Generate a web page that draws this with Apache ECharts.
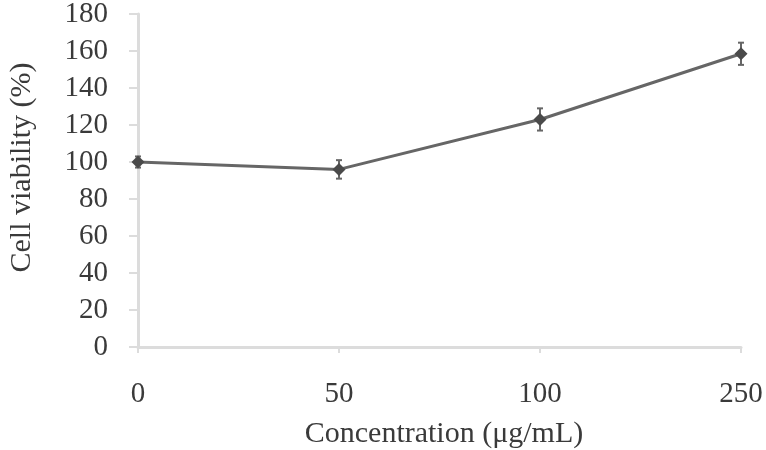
<!DOCTYPE html>
<html>
<head>
<meta charset="utf-8">
<script src="https://cdn.jsdelivr.net/npm/echarts@6/dist/echarts.min.js"></script>
<style>html,body{margin:0;padding:0;background:#fff;}#c{width:766px;height:450px;}</style>
</head>
<body>
<div id="c"></div>
<script>
const categories = ['0', '50', '100', '250'];
const viability = [100, 96, 123, 158.5];
const errors = [3, 5, 6, 6];
const yTicks = [0, 20, 40, 60, 80, 100, 120, 140, 160, 180];

const chart = echarts.init(document.getElementById('c'));
const font = '"Liberation Serif", "Times New Roman", serif';
const errData = categories.map((c, i) => [i, viability[i] - errors[i], viability[i] + errors[i]]);

chart.setOption({
  animation: false,
  backgroundColor: '#fff',
  grid: { left: 138, right: 25, top: 14, bottom: 103, containLabel: false, outerBoundsMode: 'none' },
  xAxis: {
    type: 'category',
    data: categories,
    boundaryGap: false,
    name: 'Concentration (μg/mL)',
    nameLocation: 'middle',
    nameGap: 72,
    nameTextStyle: { fontFamily: font, fontSize: 30, color: '#3a3a3a', padding: [0, 0, 0, 9] },
    axisLine: { lineStyle: { color: '#dcdcdc', width: 3 } },
    axisTick: { show: true, alignWithLabel: true, length: 6, lineStyle: { color: '#dcdcdc', width: 2 } },
    axisLabel: { fontFamily: font, fontSize: 29, color: '#3a3a3a', margin: 33 },
    splitLine: { show: false }
  },
  yAxis: {
    type: 'value',
    min: yTicks[0],
    max: yTicks[yTicks.length - 1],
    interval: 20,
    name: 'Cell viability (%)',
    nameLocation: 'middle',
    nameGap: 101,
    nameTextStyle: { fontFamily: font, fontSize: 30, color: '#3a3a3a', padding: [0, 0, 0, 26] },
    axisLine: { show: true, lineStyle: { color: '#dcdcdc', width: 3 } },
    axisTick: { show: true, length: 9, lineStyle: { color: '#dcdcdc', width: 2 } },
    axisLabel: { fontFamily: font, fontSize: 29, color: '#3a3a3a', margin: 30 },
    splitLine: { show: false }
  },
  series: [
    {
      type: 'custom',
      z: 3,
      renderItem: function (params, api) {
        const x = api.value(0);
        const lo = api.coord([x, api.value(1)]);
        const hi = api.coord([x, api.value(2)]);
        const w = 3;
        const st = { stroke: '#666', lineWidth: 2 };
        return {
          type: 'group',
          children: [
            { type: 'line', shape: { x1: lo[0], y1: lo[1], x2: hi[0], y2: hi[1] }, style: st },
            { type: 'line', shape: { x1: lo[0] - w, y1: lo[1], x2: lo[0] + w, y2: lo[1] }, style: st },
            { type: 'line', shape: { x1: hi[0] - w, y1: hi[1], x2: hi[0] + w, y2: hi[1] }, style: st }
          ]
        };
      },
      data: errData
    },
    {
      type: 'line',
      z: 4,
      data: viability,
      symbol: 'diamond',
      symbolSize: 13,
      lineStyle: { color: '#666', width: 3 },
      itemStyle: { color: '#4a4a4a' }
    }
  ]
});
</script>
</body>
</html>
